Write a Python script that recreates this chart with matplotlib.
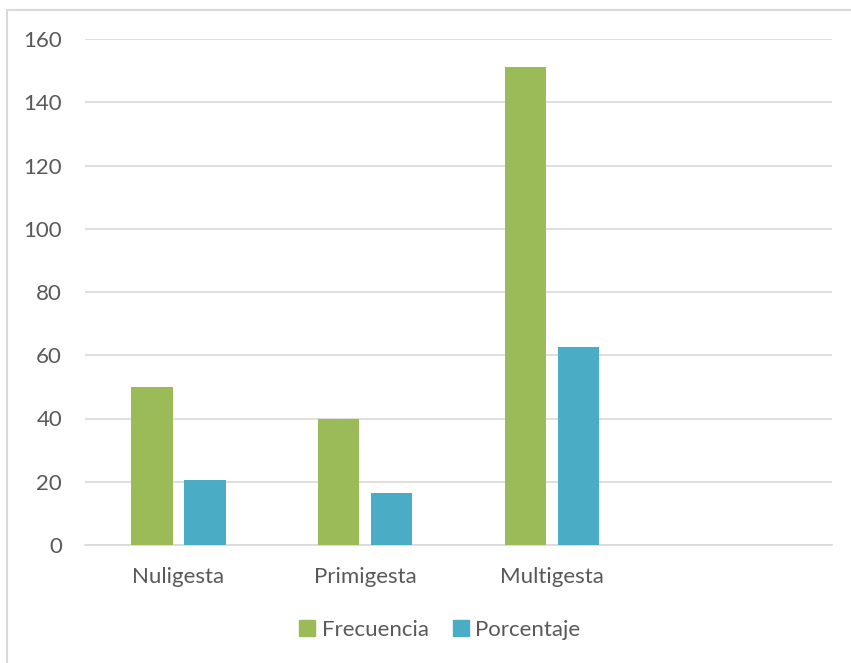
import matplotlib
matplotlib.use("Agg")
import matplotlib.pyplot as plt
from matplotlib.lines import Line2D
import numpy as np

categories = ["Nuligesta", "Primigesta", "Multigesta", ""]
frecuencia = [50, 40, 151, None]
porcentaje = [20.7, 16.6, 62.7, None]
series_names = ["Frecuencia", "Porcentaje"]
yticks = [0, 20, 40, 60, 80, 100, 120, 140, 160]

green = "#9BBB59"
blue = "#4BACC6"
grid_c = "#D9D9D9"
text_c = "#595959"

plt.rcParams["font.family"] = ["Lato", "DejaVu Sans"]

fig = plt.figure(figsize=(8.51, 6.63), dpi=100)
ax = fig.add_axes([85 / 851, 1 - 545 / 663, (832 - 85) / 851, (545 - 39) / 663])

x = np.arange(len(categories))
w = 0.222
off = 0.142
for i in range(len(categories)):
    if frecuencia[i] is not None:
        ax.bar(x[i] - off, frecuencia[i], w, color=green, zorder=3)
    if porcentaje[i] is not None:
        ax.bar(x[i] + off, porcentaje[i], w, color=blue, zorder=3)

ax.set_xlim(-0.5, len(categories) - 0.5)
ax.set_ylim(0, 160)
ax.set_yticks(yticks)
ax.set_xticks(x)
ax.set_xticklabels(categories)
ax.yaxis.grid(True, color=grid_c, linewidth=1.2, zorder=0)
ax.set_axisbelow(True)
for s in ["top", "right", "left"]:
    ax.spines[s].set_visible(False)
ax.spines["bottom"].set_color(grid_c)
ax.spines["bottom"].set_linewidth(1.2)
ax.tick_params(axis="both", length=0, labelsize=16, colors=text_c)
ax.tick_params(axis="y", pad=16.5)
ax.tick_params(axis="x", pad=16)

handles = [plt.Rectangle((0, 0), 1, 1, color=green), plt.Rectangle((0, 0), 1, 1, color=blue)]
fig.legend(handles, series_names, loc="center", bbox_to_anchor=(440 / 851, 1 - 630 / 663),
           ncol=2, frameon=False, fontsize=16, labelcolor=text_c, handlelength=0.7,
           handleheight=0.7, handletextpad=0.3, columnspacing=1.1)

# outer chart frame (left and top edges)
fig.add_artist(Line2D([7 / 851, 7 / 851], [0, 1 - 10 / 663], color=grid_c, linewidth=1.5))
fig.add_artist(Line2D([7 / 851, 1], [1 - 10 / 663, 1 - 10 / 663], color=grid_c, linewidth=1.5))

fig.savefig("out.png", dpi=100)
